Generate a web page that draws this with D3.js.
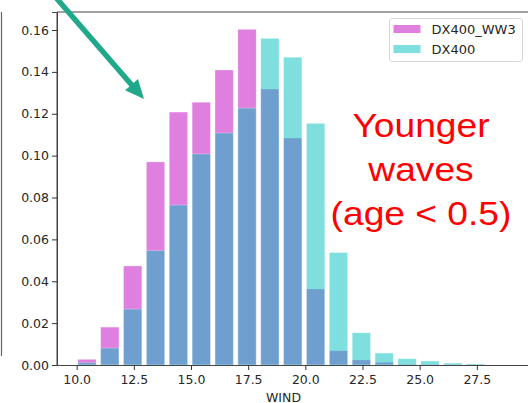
<!DOCTYPE html>
<html><head><meta charset="utf-8">
<script src="https://cdn.jsdelivr.net/npm/d3@7"></script>
<style>
html,body{margin:0;padding:0;background:#fff;overflow:hidden}
svg{display:block}
</style></head>
<body>
<svg id="chart" width="528" height="403"></svg>
<script>
// ---- data ----
const binCenters = [10.45, 11.45, 12.45, 13.45, 14.45, 15.45, 16.45, 17.45, 18.45, 19.45, 20.45, 21.45, 22.45, 23.45, 24.45, 25.45, 26.45, 27.45];
const ww3Values  = [0.0027, 0.0181, 0.0473, 0.0970, 0.1208, 0.1255, 0.1409, 0.1603, 0.1318, 0.1084, 0.0363, 0.0068, 0.0024, 0.0013, 0.0003, 0.0002, 0.0001, 0.0001];
const dx400Values = [0.0011, 0.0081, 0.0267, 0.0546, 0.0764, 0.1008, 0.1108, 0.1227, 0.1560, 0.1470, 0.1154, 0.0537, 0.0154, 0.0057, 0.0030, 0.0019, 0.0009, 0.0005];
const seriesNames = ["DX400_WW3", "DX400"];
const xTicks = [10.0, 12.5, 15.0, 17.5, 20.0, 22.5, 25.0, 27.5];
const yTicks = [0.00, 0.02, 0.04, 0.06, 0.08, 0.10, 0.12, 0.14, 0.16];
const annotationLines = ["Younger", "waves", "(age < 0.5)"];
const xLabel = "WIND";
const binWidth = 0.8;

(function () {
// ---- layout ----
const svg = d3.select("#chart");
const mLeft = 57, mTop = 12, mBottom = 365, mRight = 534;
const x = d3.scaleLinear().domain([9.14, 30.0]).range([mLeft, mRight]);
const y = d3.scaleLinear().domain([0, 0.1686]).range([mBottom, mTop]);
const colors = ["rgba(191,0,191,0.5)", "rgba(0,191,191,0.5)"];
const tickFont = "DejaVu Sans, sans-serif";

// stray frame line from neighbouring panel
svg.append("line").attr("x1", 1.5).attr("x2", 1.5).attr("y1", 12).attr("y2", 356)
  .attr("stroke", "#666").attr("stroke-width", 1.2);

// bars
[ww3Values, dx400Values].forEach((vals, si) => {
  svg.append("g").selectAll("rect").data(vals).join("rect")
    .attr("x", (d, i) => x(binCenters[i] - binWidth / 2))
    .attr("width", (d, i) => x(binCenters[i] + binWidth / 2) - x(binCenters[i] - binWidth / 2))
    .attr("y", d => y(d))
    .attr("height", d => y(0) - y(d))
    .attr("fill", colors[si])
    .attr("stroke", "rgba(255,255,255,0.35)")
    .attr("stroke-width", 0.8);
});

// spines
svg.append("line").attr("x1", mLeft).attr("x2", 528).attr("y1", mTop).attr("y2", mTop)
  .attr("stroke", "#444").attr("stroke-width", 1);
svg.append("line").attr("x1", mLeft).attr("x2", mLeft).attr("y1", mTop).attr("y2", mBottom)
  .attr("stroke", "#444").attr("stroke-width", 1);

// axes
const xAxis = svg.append("g").attr("transform", `translate(0,${mBottom})`)
  .call(d3.axisBottom(x).tickValues(xTicks).tickFormat(d3.format(".1f")).tickSize(5).tickPadding(5));
const yAxis = svg.append("g").attr("transform", `translate(${mLeft},0)`)
  .call(d3.axisLeft(y).tickValues(yTicks).tickFormat(d3.format(".2f")).tickSize(5).tickPadding(3));
[xAxis, yAxis].forEach(g => {
  g.select(".domain").attr("stroke", "#444").attr("stroke-width", 1);
  g.selectAll(".tick line").attr("stroke", "#333").attr("stroke-width", 1);
  g.selectAll(".tick text").attr("fill", "#262626")
    .style("font-family", tickFont).style("font-size", "12.5px");
});
xAxis.select(".domain").attr("d", `M${mLeft},0.5H528`);

// x label
svg.append("text").attr("x", 283.5).attr("y", 401.5).attr("text-anchor", "middle")
  .style("font-family", tickFont).style("font-size", "12.5px").attr("fill", "#262626")
  .text(xLabel);

// legend
const lg = svg.append("g");
lg.append("rect").attr("x", 389.5).attr("y", 18.5).attr("width", 133).attr("height", 43)
  .attr("rx", 3).attr("fill", "rgba(255,255,255,0.8)").attr("stroke", "#d6d6d6");
seriesNames.forEach((n, i) => {
  lg.append("rect").attr("x", 393.5).attr("y", 25 + i * 20).attr("width", 27).attr("height", 8)
    .attr("fill", colors[i]);
  lg.append("text").attr("x", 431.5).attr("y", 33.7 + i * 20)
    .style("font-family", tickFont).style("font-size", "13px").attr("fill", "#262626").text(n);
});

// red annotation (slightly wide glyphs, as in the reference)
annotationLines.forEach((t, i) => {
  svg.append("text").attr("transform", `translate(421,${137 + i * 44}) scale(1.11,1)`)
    .attr("text-anchor", "middle")
    .style("font-family", "Liberation Sans, Arial, sans-serif").style("font-size", "33.5px")
    .attr("fill", "red").text(t);
});

// arrow
const tip = [144, 99], dir = [86 / 131.1, 99 / 131.1];
const headLen = 19, headHalf = 8.5, shaftHalf = 2.7;
const start = [tip[0] - dir[0] * 160, tip[1] - dir[1] * 160];
const base = [tip[0] - dir[0] * headLen, tip[1] - dir[1] * headLen];
const nrm = [-dir[1], dir[0]];
const pts = [
  [start[0] + nrm[0] * shaftHalf, start[1] + nrm[1] * shaftHalf],
  [base[0] + nrm[0] * shaftHalf, base[1] + nrm[1] * shaftHalf],
  [base[0] + nrm[0] * headHalf, base[1] + nrm[1] * headHalf],
  tip,
  [base[0] - nrm[0] * headHalf, base[1] - nrm[1] * headHalf],
  [base[0] - nrm[0] * shaftHalf, base[1] - nrm[1] * shaftHalf],
  [start[0] - nrm[0] * shaftHalf, start[1] - nrm[1] * shaftHalf]
];
svg.append("path").attr("d", d3.line()(pts) + "Z").attr("fill", "#1fa98a");
})();
</script>
</body></html>
